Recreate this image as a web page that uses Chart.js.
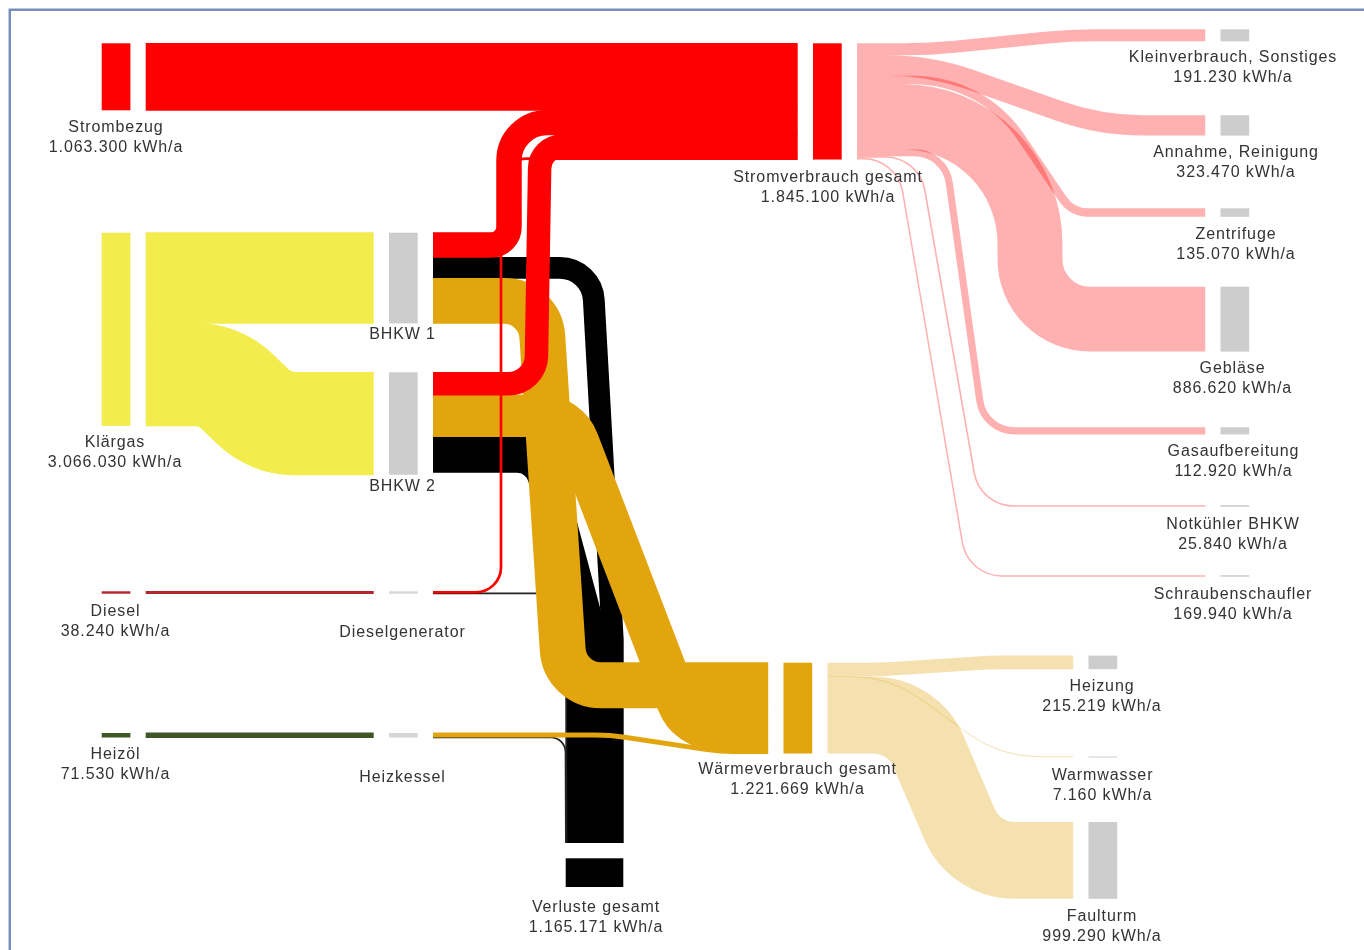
<!DOCTYPE html>
<html lang="de">
<head>
<meta charset="utf-8">
<title>Energieflüsse</title>
<script src="https://cdn.jsdelivr.net/npm/chart.js@4.4.1/dist/chart.umd.min.js"></script>
<style>
  html, body { margin: 0; padding: 0; background: #fff; }
  #wrap { width: 1364px; height: 950px; }
</style>
</head>
<body>
<div id="wrap"><canvas id="sankey" width="1364" height="950"></canvas></div>
<script>
// ---- data: nodes ----
const nodeNames = [
    'Strombezug', 'Klärgas', 'Diesel', 'Heizöl',
    'BHKW 1', 'BHKW 2', 'Dieselgenerator', 'Heizkessel',
    'Stromverbrauch gesamt', 'Wärmeverbrauch gesamt', 'Verluste gesamt',
    'Kleinverbrauch, Sonstiges', 'Annahme, Reinigung', 'Zentrifuge', 'Gebläse',
    'Gasaufbereitung', 'Notkühler BHKW', 'Schraubenschaufler',
    'Heizung', 'Warmwasser', 'Faulturm'
];
// printed totals (kWh/a), null where the diagram shows no value
const nodeTotals = [
    1063300, 3066030, 38240, 71530,
    null, null, null, null,
    1845100, 1221669, 1165171,
    191230, 323470, 135070, 886620,
    112920, 25840, 169940,
    215219, 7160, 999290
];

// ---- data: flows (kWh/a) ----
const flowFrom = [0, 1, 1, 2, 3, 4, 4, 4, 5, 5, 5, 6, 6, 7, 7, 8, 8, 8, 8, 8, 8, 8, 9, 9, 9];
const flowTo   = [8, 4, 5, 6, 7, 8, 10, 9, 8, 9, 10, 8, 10, 9, 10, 11, 12, 13, 14, 15, 16, 17, 18, 19, 20];
const flowValues = [
    1063300, 1440000, 1626030, 38240, 71530,
    391800, 333000, 715200,
    360000, 662000, 566000,
    30000, 8240,
    64530, 7000,
    191230, 323470, 135070, 1030000, 112920, 25840, 24000,
    215219, 7160, 1219000
];

// ---- layout (axis units) ----
const UNITS_PER_KWH = 0.063 / 1000;
const NODE_W = 28.7;
const GAP = 15.3;
const nodeLeft = [101.7, 101.7, 101.7, 101.7, 389, 389, 389, 389, 813, 783.5, 565.7,
    1220.5, 1220.5, 1220.5, 1220.5, 1220.5, 1220.5, 1220.5, 1088.5, 1088.5, 1088.5];
const nodeTop = [43.3, 232.7, 591.3, 733, 232.7, 372.3, 591.3, 733, 43.3, 662.7, 858.3,
    29.3, 115.2, 208.3, 286.7, 427.3, 505.2, 575.2, 655.6, 756.5, 822];
const nodeDown = nodeNames.map(n => n === 'Verluste gesamt'); // entered from above
const RED = '#ff0000', YELLOW = '#f2ec4c', ORANGE = '#e2a50e', GRAY = '#cdcdcd';
const nodeColors = [RED, YELLOW, '#b3262d', '#3f5627', GRAY, GRAY, '#d6d6d6', '#d6d6d6',
    RED, ORANGE, '#000000', GRAY, GRAY, GRAY, GRAY, GRAY, GRAY, GRAY, GRAY, GRAY, GRAY];
const labelX = [116, 115, 115.5, 115.5, 402.5, 402.5, 402.5, 402.5, 828, 797.5, 596,
    1233, 1236, 1236, 1232.5, 1233.5, 1233, 1233, 1102, 1102.5, 1102];
const labelY = [126.5, 441.7, 610, 753, 333, 485, 631, 776, 176, 768, 906,
    56, 151, 233.5, 367, 450, 523, 593, 685, 774, 915];

const PINK = 'rgba(255,0,0,0.31)', TAN = 'rgba(226,165,14,0.33)', LOSS = '#222';
const flowColors = [RED, YELLOW, YELLOW, '#b3262d', '#3f5627',
    RED, '#000', ORANGE, RED, ORANGE, '#000', RED, LOSS, ORANGE, LOSS,
    PINK, PINK, PINK, PINK, PINK, PINK, PINK, TAN, TAN, TAN];
// drawing layer: 0 base, 1 losses, 2 heat, 3 electricity
const flowLayer = [3, 0, 0, 0, 0, 3, 1, 2, 3, 2, 1, 3, 1, 2, 1, 0, 0, 0, 0, 0, 0, 0, 0, 0, 0];
// bend points: [x, 's'] keeps the source height, [x, 't'] the target height
const flowVia = [
    [], [], [[220, 's'], [270, 't']], [], [],
    [[509, 's'], [509, 't']], [[592, 's'], [612.8, 640]], [[540, 's'], [565, 't']],
    [[536, 's'], [540, 't']], [[568, 's'], [688, 't']], [[540, 's'], [584.5, 620]],
    [[501, 's'], [501, 't']], [[566, 's']],
    [[610, 's'], [720, 't']], [[565.5, 's']],
    [[930, 's'], [1070, 't']], [[930, 's'], [1100, 't']], [[982, 's'], [1072, 't']],
    [[1030, 's'], [1030, 't']], [[945, 's'], [984, 't']], [[919, 's'], [980, 't']], [[897, 's'], [968, 't']],
    [[880, 's'], [990, 't']], [[890, 's'], [1000, 't']], [[913, 's'], [975, 't']]
];
// corner radius per bend
const flowRadius = [
    [], [], [60, 60], [], [],
    [18, 38], [34, 30], [38, 38],
    [28, 22], [40, 40], [30, 30],
    [25, 25], [15],
    [200, 200], [15],
    [500, 500], [250, 250], [130, 30],
    [127, 60], [35, 35], [40, 40], [40, 40],
    [400, 400], [120, 120], [60, 60]
];

const formatValue = (v) => String(v).replace(/\B(?=(\d{3})+(?!\d))/g, '.') + ' kWh/a';

// polyline with rounded corners, tangent lengths shared fairly on the inner segments
const strokeRounded = (ctx, pts, radii) => {
    const n = pts.length;
    const seg = [];
    for (let j = 0; j < n - 1; j++) seg.push(Math.hypot(pts[j + 1].x - pts[j].x, pts[j + 1].y - pts[j].y));
    const half = [], want = [];
    for (let k = 1; k < n - 1; k++) {
        const a = pts[k - 1], b = pts[k], c = pts[k + 1];
        const cos = ((a.x - b.x) * (c.x - b.x) + (a.y - b.y) * (c.y - b.y)) / (seg[k - 1] * seg[k] || 1);
        const inner = Math.acos(Math.max(-1, Math.min(1, cos)));
        half[k] = Math.tan(inner / 2);
        want[k] = (inner > Math.PI - 0.002 || seg[k - 1] < 0.01 || seg[k] < 0.01) ? 0 : radii[k - 1] / half[k];
    }
    ctx.beginPath();
    ctx.moveTo(pts[0].x, pts[0].y);
    for (let k = 1; k < n - 1; k++) {
        const b = pts[k], c = pts[k + 1];
        if (!want[k]) { ctx.lineTo(b.x, b.y); continue; }
        const left = k === 1 ? seg[0] : seg[k - 1] * want[k] / (want[k] + (want[k - 1] || 0));
        const right = k === n - 2 ? seg[k] : seg[k] * want[k] / (want[k] + (want[k + 1] || 0));
        const d = Math.min(want[k], left, right);
        ctx.arcTo(b.x, b.y, c.x, c.y, d * half[k]);
    }
    ctx.lineTo(pts[n - 1].x, pts[n - 1].y);
    ctx.stroke();
};

const framePlugin = {
    id: 'frame',
    beforeDraw(chart) {
        const ctx = chart.ctx;
        ctx.save();
        ctx.fillStyle = '#ffffff';
        ctx.fillRect(0, 0, chart.width, chart.height);
        ctx.strokeStyle = '#778dba';
        ctx.lineWidth = 2.5;
        ctx.beginPath();
        ctx.moveTo(9.8, chart.height);
        ctx.lineTo(9.8, 9.8);
        ctx.lineTo(chart.width, 9.8);
        ctx.stroke();
        ctx.restore();
    }
};

const sankeyPlugin = {
    id: 'sankey',
    afterDatasetsDraw(chart) {
        const ctx = chart.ctx;
        const xs = chart.scales.x, ys = chart.scales.y;
        const X = (u) => xs.getPixelForValue(u);
        const Y = (u) => ys.getPixelForValue(u);

        // node sizes from the flows
        const inSum = nodeNames.map(() => 0), outSum = nodeNames.map(() => 0);
        flowValues.forEach((v, i) => {
            outSum[flowFrom[i]] += v;
            inSum[flowTo[i]] += v;
        });
        const nodeSize = nodeNames.map((_, n) => Math.max(inSum[n], outSum[n]) * UNITS_PER_KWH);

        // stack flows in and out of the nodes
        const outOff = nodeNames.map(() => 0), inOff = nodeNames.map(() => 0);
        const paths = flowValues.map((v, i) => {
            const w = v * UNITS_PER_KWH;
            const s = flowFrom[i], t = flowTo[i];
            const start = { x: nodeLeft[s] + NODE_W + GAP, y: nodeTop[s] + outOff[s] + w / 2 };
            outOff[s] += w;
            let end;
            if (nodeDown[t]) {
                end = { x: nodeLeft[t] + nodeSize[t] - inOff[t] - w / 2, y: nodeTop[t] - GAP };
            } else {
                end = { x: nodeLeft[t] - GAP, y: nodeTop[t] + inOff[t] + w / 2 };
            }
            inOff[t] += w;
            const pts = [start];
            flowVia[i].forEach(([vx, vy]) => {
                const yy = vy === 's' ? start.y : (vy === 't' ? end.y : vy);
                pts.push({ x: vx, y: yy });
            });
            pts.push(end);
            return { w, pts };
        });

        ctx.save();
        ctx.lineCap = 'butt';
        ctx.lineJoin = 'round';
        const unit = Math.abs(X(1) - X(0));
        [0, 1, 2, 3].forEach(layer => {
            paths.forEach((p, i) => {
                if (flowLayer[i] !== layer) return;
                const opaque = !flowColors[i].startsWith('rgba');
                ctx.strokeStyle = flowColors[i];
                // opaque bands get a hair of overlap so neighbours join without seams
                ctx.lineWidth = Math.max(1, Math.abs(Y(p.w) - Y(0))) + (opaque ? 0.8 : 0);
                const px = p.pts.map(q => ({ x: X(q.x), y: Y(q.y) }));
                strokeRounded(ctx, px, flowRadius[i].map(r => r * unit));
            });
        });

        // nodes
        nodeNames.forEach((_, n) => {
            ctx.fillStyle = nodeColors[n];
            let x0, x1, y0, y1;
            if (nodeDown[n]) {
                x0 = X(nodeLeft[n]); x1 = X(nodeLeft[n] + nodeSize[n]);
                y0 = Y(nodeTop[n]); y1 = Y(nodeTop[n] + NODE_W);
            } else {
                x0 = X(nodeLeft[n]); x1 = X(nodeLeft[n] + NODE_W);
                y0 = Y(nodeTop[n]); y1 = Y(nodeTop[n] + nodeSize[n]);
            }
            ctx.fillRect(x0, y0, x1 - x0, Math.max(1, y1 - y0));
        });

        // labels
        ctx.fillStyle = '#333333';
        ctx.font = '16px "Liberation Sans", Arial, sans-serif';
        ctx.letterSpacing = '0.9px';
        ctx.textAlign = 'center';
        ctx.textBaseline = 'alphabetic';
        nodeNames.forEach((name, n) => {
            const lx = X(labelX[n]), ly = Y(labelY[n]) + 5.7;
            ctx.fillText(name, lx, ly);
            if (nodeTotals[n] !== null) ctx.fillText(formatValue(nodeTotals[n]), lx, ly + 20);
        });
        ctx.restore();
    }
};

new Chart(document.getElementById('sankey'), {
    type: 'scatter',
    data: { datasets: [{ data: [], pointRadius: 0 }] },
    options: {
        responsive: false,
        animation: false,
        events: [],
        layout: { padding: 0 },
        plugins: { legend: { display: false }, tooltip: { enabled: false } },
        scales: {
            x: { type: 'linear', min: 0, max: 1364, display: false },
            y: { type: 'linear', min: 0, max: 950, reverse: true, display: false }
        }
    },
    plugins: [framePlugin, sankeyPlugin]
});
</script>
</body>
</html>
